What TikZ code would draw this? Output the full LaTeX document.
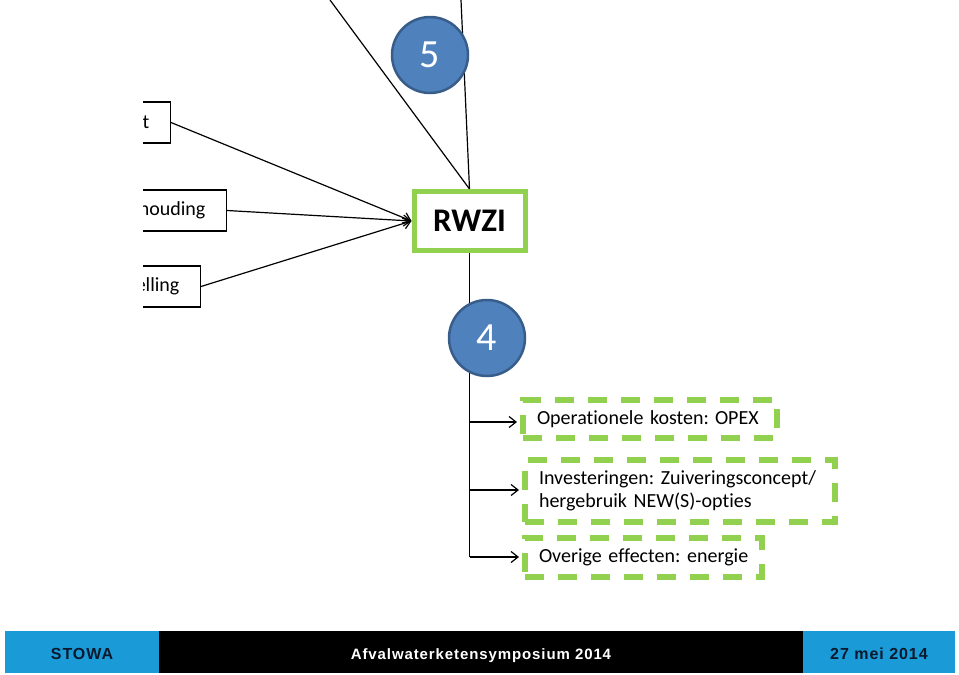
\documentclass[tikz,border=0pt]{standalone}
\usepackage{fontspec}
\setmainfont{Carlito}[Ligatures=NoCommon]
\newfontfamily\footfont[LetterSpace=6]{Liberation Sans}
\usepackage{tikz}
\usetikzlibrary{arrows.meta}
\definecolor{lgreen}{RGB}{146,208,80}
\definecolor{cfill}{RGB}{79,129,189}
\definecolor{cborder}{RGB}{56,93,138}
\definecolor{footblue}{RGB}{26,155,215}
\definecolor{footnavy}{RGB}{10,25,45}
\frenchspacing

\begin{document}
\begin{tikzpicture}[x=1pt,y=-1pt,line width=1.2pt,>={Straight Barb[length=7pt,width=11pt]},
    cutbox/.style={draw,anchor=east,text width=110pt,align=right,inner xsep=21pt,minimum height=41pt,font=\fontsize{20}{24}\selectfont},
    plant/.style={draw=lgreen,line width=5pt,minimum width=111pt,minimum height=59pt,font=\bfseries\fontsize{33}{36}\selectfont},
    phase/.style={circle,draw=cborder,fill=cfill,line width=2.5pt,minimum size=76pt,inner sep=0pt,text=white,font=\fontsize{40}{44}\selectfont},
    effect/.style={draw=lgreen,line width=6pt,dash pattern=on 19pt off 14pt,align=left,inner xsep=14pt,font=\fontsize{20}{23}\selectfont},
    foot/.style={minimum height=42pt,inner sep=0pt,text height=14pt,text depth=0pt,font=\footfont\bfseries\fontsize{15}{18}\selectfont}]
    \useasboundingbox (0,0) rectangle (959,675);

    % input boxes, cut at the left
    \begin{scope}
      \clip (143,80) rectangle (240,320);
      \node[cutbox] (kwal) at (171,122.5) {t};
      \node[cutbox] (verh) at (227,210.5) {houding};
      \node[cutbox] (stel) at (201,286.5) {elling};
    \end{scope}

    \node[plant] (rwzi) at (469.5,221) {RWZI};
    \coordinate (in1) at (330,0);
    \coordinate (in2) at (461,0);
    \draw (in1) -- (rwzi.north) (in2) -- (rwzi.north);
    \node[phase] (five) at (430,55) {5};

    \path[->]
    (kwal.east) edge (rwzi.west)
    (verh.east) edge (rwzi.west)
    (stel.east) edge (rwzi.west)
    ;

    % effects
    \node[effect,text width=226pt,minimum height=38pt] (opex) at (650,419) {\mbox{Operationele kosten:\hspace{6pt}OPEX}};
    \node[effect,text width=282pt,minimum height=62pt] (capex) at (680,491) {\mbox{Investeringen: Zuiveringsconcept/}\\\mbox{hergebruik NEW(S)-opties}};
    \node[effect,text width=209pt,minimum height=39pt] (energie) at (643.5,557.5) {\mbox{Overige effecten: energie}};

    \coordinate (t1) at (469.5,422);
    \coordinate (t2) at (469.5,490);
    \coordinate (t3) at (469.5,557);
    \draw (rwzi.south) -- (t3);
    \node[phase] (four) at (487,338) {4};
    \path[->,shorten >=3pt]
    (t1) edge (t1 -| opex.west)
    (t2) edge (t2 -| capex.west)
    (t3) edge (t3 -| energie.west)
    ;

    % footer
    \node[foot,fill=footblue,text=footnavy,minimum width=154pt,font=\footfont\bfseries\fontsize{16}{18}\selectfont] (stowa) at (82,652) {STOWA};
    \node[foot,fill=black,text=white,minimum width=644pt] (symp) at (481,652) {Afvalwaterketensymposium 2014};
    \node[foot,fill=footblue,text=footnavy,minimum width=152pt,font=\footfont\bfseries\fontsize{16}{18}\selectfont] (datum) at (879,652) {27 mei 2014};
  \end{tikzpicture}
\end{document}
